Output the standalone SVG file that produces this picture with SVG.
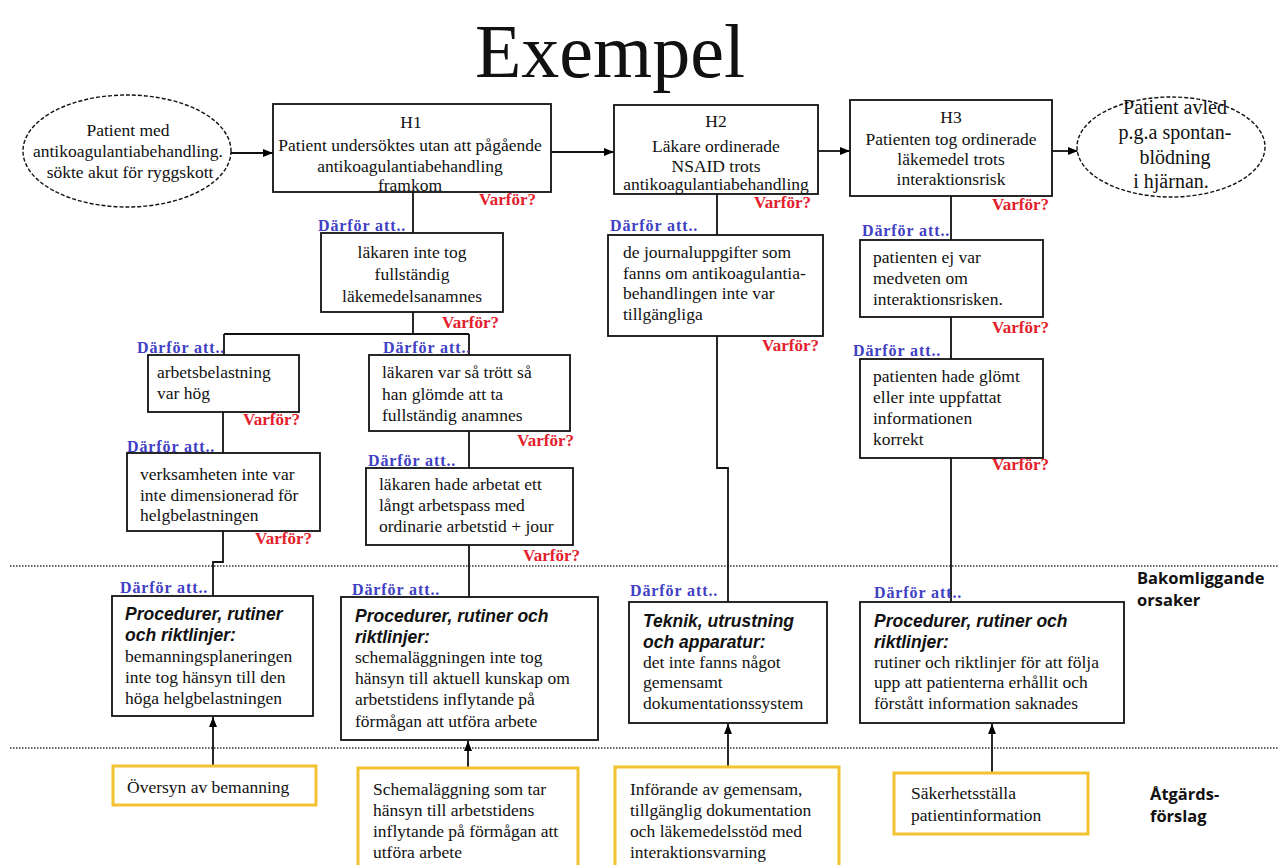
<svg xmlns="http://www.w3.org/2000/svg" width="1279" height="865" viewBox="0 0 1279 865">
  <defs>
    <marker id="arrow" markerUnits="userSpaceOnUse" markerWidth="10" markerHeight="8" refX="10" refY="4" orient="auto">
      <path d="M0,0 L10,4 L0,8 z" fill="#000"/>
    </marker>
  </defs>
  <style>
    .box { fill: #fff; stroke: #111; stroke-width: 1.8; }
    .act { fill: #fff; stroke: #F2C230; stroke-width: 3; }
    .oval { fill: #fff; stroke: #111; stroke-width: 1.4; stroke-dasharray: 4 2; }
    .t { font-family: "Liberation Serif", "Times New Roman", serif; font-size: 17.5px; fill: #111; }
    .c { text-anchor: middle; }
    .big { font-size: 20px; }
    .hd { font-family: "Liberation Sans", Arial, sans-serif; font-size: 17.5px; font-style: italic; font-weight: bold; fill: #111; }
    .why { font-family: "Liberation Serif", "Times New Roman", serif; font-size: 17px; font-weight: bold; fill: #E3202B; }
    .bec { font-family: "Liberation Serif", "Times New Roman", serif; font-size: 16px; font-weight: bold; fill: #4040C4; letter-spacing: 0.9px; }
    .side { font-family: "Open Sans", "Liberation Sans", sans-serif; font-size: 16.5px; font-weight: bold; fill: #111; }
    .ln { fill: none; stroke: #111; stroke-width: 1.8; }
    .dot { stroke: #333; stroke-width: 1.5; stroke-dasharray: 1.5 1.5; }
  </style>
  <rect width="1279" height="865" fill="#fff"/>

  <text x="610" y="77" class="t c" style="font-size:76px">Exempel</text>

  <!-- section dividers -->
  <g id="dividers">
    <line x1="10" y1="566" x2="1279" y2="566" class="dot"/>
    <line x1="10" y1="748" x2="1279" y2="748" class="dot"/>
  </g>

  <!-- connectors -->
  <g id="connectors">
    <line x1="230" y1="153" x2="273" y2="153" class="ln" marker-end="url(#arrow)"/>
    <line x1="551" y1="152" x2="614" y2="152" class="ln" marker-end="url(#arrow)"/>
    <line x1="818" y1="151" x2="850" y2="151" class="ln" marker-end="url(#arrow)"/>
    <line x1="1052" y1="151" x2="1078" y2="151" class="ln" marker-end="url(#arrow)"/>

    <line x1="413" y1="192" x2="413" y2="233" class="ln"/>
    <path d="M413,312 V334 M224,334 H469 M224,334 V355 M469,334 V355" class="ln"/>
    <line x1="223" y1="412" x2="223" y2="453" class="ln"/>
    <path d="M223,531 V562 H213 V596" class="ln"/>
    <line x1="469" y1="431" x2="469" y2="468" class="ln"/>
    <line x1="469" y1="545" x2="469" y2="597" class="ln"/>

    <line x1="717" y1="194" x2="717" y2="235" class="ln"/>
    <path d="M717,336 V468 H728 V602" class="ln"/>

    <line x1="951" y1="196" x2="951" y2="240" class="ln"/>
    <line x1="951" y1="317" x2="951" y2="359" class="ln"/>
    <line x1="951" y1="458" x2="951" y2="602" class="ln"/>

    <line x1="213" y1="766" x2="213" y2="717" class="ln" marker-end="url(#arrow)"/>
    <line x1="468" y1="768" x2="468" y2="741" class="ln" marker-end="url(#arrow)"/>
    <line x1="728" y1="767" x2="728" y2="724" class="ln" marker-end="url(#arrow)"/>
    <line x1="992" y1="773" x2="992" y2="724" class="ln" marker-end="url(#arrow)"/>
  </g>

  <!-- top row -->
  <g id="start">
    <ellipse cx="127" cy="151" rx="104" ry="56" class="oval"/>
    <text class="t c" x="128" y="136">Patient med</text>
    <text class="t c" x="128" y="157">antikoagulantiabehandling.</text>
    <text class="t c" x="130" y="178">sökte akut för ryggskott</text>
  </g>

  <g id="h1">
    <rect x="273" y="104" width="278" height="88" class="box"/>
    <text class="t c" x="411" y="128">H1</text>
    <text class="t c" x="410" y="151">Patient undersöktes utan att pågående</text>
    <text class="t c" x="410" y="172">antikoagulantiabehandling</text>
    <text class="t c" x="410" y="191">framkom</text>
    <text class="why" x="479" y="205">Varför?</text>
  </g>

  <g id="h2">
    <rect x="614" y="105" width="204" height="89" class="box"/>
    <text class="t c" x="716" y="127">H2</text>
    <text class="t c" x="716" y="152">Läkare ordinerade</text>
    <text class="t c" x="716" y="172">NSAID trots</text>
    <text class="t c" x="716" y="190">antikoagulantiabehandling</text>
    <text class="why" x="754" y="208">Varför?</text>
  </g>

  <g id="h3">
    <rect x="850" y="100" width="202" height="96" class="box"/>
    <text class="t c" x="951" y="123">H3</text>
    <text class="t c" x="951" y="145">Patienten tog ordinerade</text>
    <text class="t c" x="951" y="165">läkemedel trots</text>
    <text class="t c" x="951" y="185">interaktionsrisk</text>
    <text class="why" x="992" y="210">Varför?</text>
  </g>

  <g id="outcome">
    <ellipse cx="1171" cy="147" rx="94" ry="50" class="oval"/>
    <text class="t c big" x="1175" y="114">Patient avled</text>
    <text class="t c big" x="1175" y="139">p.g.a spontan-</text>
    <text class="t c big" x="1175" y="164">blödning</text>
    <text class="t c big" x="1171" y="188">i hjärnan.</text>
  </g>

  <!-- H1 branch -->
  <g id="h1-why1">
    <text class="bec" x="318" y="231">Därför att..</text>
    <rect x="321" y="233" width="182" height="79" class="box"/>
    <text class="t c" x="412" y="258">läkaren inte tog</text>
    <text class="t c" x="412" y="280">fullständig</text>
    <text class="t c" x="412" y="302">läkemedelsanamnes</text>
    <text class="why" x="442" y="328">Varför?</text>
  </g>

  <g id="h1-why2a">
    <text class="bec" x="137" y="353">Därför att..</text>
    <rect x="148" y="355" width="151" height="57" class="box"/>
    <text class="t" x="157" y="378">arbetsbelastning</text>
    <text class="t" x="157" y="399">var hög</text>
    <text class="why" x="243" y="425">Varför?</text>
  </g>

  <g id="h1-why2b">
    <text class="bec" x="383" y="353">Därför att..</text>
    <rect x="369" y="355" width="201" height="76" class="box"/>
    <text class="t" x="382" y="378">läkaren var så trött så</text>
    <text class="t" x="382" y="400">han glömde att ta</text>
    <text class="t" x="382" y="421">fullständig anamnes</text>
    <text class="why" x="517" y="446">Varför?</text>
  </g>

  <g id="h1-why3a">
    <text class="bec" x="127" y="452">Därför att..</text>
    <rect x="127" y="453" width="193" height="78" class="box"/>
    <text class="t" x="140" y="480">verksamheten inte var</text>
    <text class="t" x="140" y="501">inte dimensionerad för</text>
    <text class="t" x="140" y="521">helgbelastningen</text>
    <text class="why" x="255" y="544">Varför?</text>
  </g>

  <g id="h1-why3b">
    <text class="bec" x="368" y="466">Därför att..</text>
    <rect x="366" y="468" width="207" height="77" class="box"/>
    <text class="t" x="379" y="490">läkaren hade arbetat ett</text>
    <text class="t" x="379" y="511">långt arbetspass med</text>
    <text class="t" x="379" y="532">ordinarie arbetstid + jour</text>
    <text class="why" x="523" y="561">Varför?</text>
  </g>

  <!-- H2 branch -->
  <g id="h2-why1">
    <text class="bec" x="610" y="231">Därför att..</text>
    <rect x="608" y="235" width="215" height="101" class="box"/>
    <text class="t" x="623" y="258">de journaluppgifter som</text>
    <text class="t" x="623" y="279">fanns om antikoagulantia-</text>
    <text class="t" x="623" y="299">behandlingen inte var</text>
    <text class="t" x="623" y="320">tillgängliga</text>
    <text class="why" x="762" y="351">Varför?</text>
  </g>

  <!-- H3 branch -->
  <g id="h3-why1">
    <text class="bec" x="862" y="236">Därför att..</text>
    <rect x="860" y="240" width="183" height="77" class="box"/>
    <text class="t" x="873" y="263">patienten ej var</text>
    <text class="t" x="873" y="284">medveten om</text>
    <text class="t" x="873" y="305">interaktionsrisken.</text>
    <text class="why" x="992" y="333">Varför?</text>
  </g>

  <g id="h3-why2">
    <text class="bec" x="853" y="356">Därför att..</text>
    <rect x="860" y="359" width="183" height="99" class="box"/>
    <text class="t" x="873" y="382">patienten hade glömt</text>
    <text class="t" x="873" y="403">eller inte uppfattat</text>
    <text class="t" x="873" y="424">informationen</text>
    <text class="t" x="873" y="445">korrekt</text>
    <text class="why" x="992" y="470">Varför?</text>
  </g>

  <!-- underlying causes -->
  <g id="cause-staffing">
    <text class="bec" x="120" y="593">Därför att..</text>
    <rect x="112" y="596" width="201" height="120" class="box"/>
    <text class="hd" x="125" y="620">Procedurer, rutiner</text>
    <text class="hd" x="125" y="641">och riktlinjer:</text>
    <text class="t" x="125" y="662">bemanningsplaneringen</text>
    <text class="t" x="125" y="683">inte tog hänsyn till den</text>
    <text class="t" x="125" y="704">höga helgbelastningen</text>
  </g>

  <g id="cause-scheduling">
    <text class="bec" x="352" y="595">Därför att..</text>
    <rect x="341" y="597" width="257" height="143" class="box"/>
    <text class="hd" x="355" y="622">Procedurer, rutiner och</text>
    <text class="hd" x="355" y="643">riktlinjer:</text>
    <text class="t" x="355" y="663">schemaläggningen inte tog</text>
    <text class="t" x="355" y="684">hänsyn till aktuell kunskap om</text>
    <text class="t" x="355" y="705">arbetstidens inflytande på</text>
    <text class="t" x="355" y="727">förmågan att utföra arbete</text>
  </g>

  <g id="cause-technology">
    <text class="bec" x="630" y="596">Därför att..</text>
    <rect x="629" y="602" width="198" height="121" class="box"/>
    <text class="hd" x="643" y="627">Teknik, utrustning</text>
    <text class="hd" x="643" y="648">och apparatur:</text>
    <text class="t" x="643" y="668">det inte fanns något</text>
    <text class="t" x="643" y="688">gemensamt</text>
    <text class="t" x="643" y="709">dokumentationssystem</text>
  </g>

  <g id="cause-followup">
    <text class="bec" x="874" y="598">Därför att..</text>
    <rect x="860" y="602" width="264" height="121" class="box"/>
    <text class="hd" x="874" y="627">Procedurer, rutiner och</text>
    <text class="hd" x="874" y="648">riktlinjer:</text>
    <text class="t" x="874" y="668">rutiner och riktlinjer för att följa</text>
    <text class="t" x="874" y="688">upp att patienterna erhållit och</text>
    <text class="t" x="874" y="709">förstått information saknades</text>
  </g>

  <g id="label-causes">
    <text class="side" x="1137" y="584">Bakomliggande</text>
    <text class="side" x="1137" y="606">orsaker</text>
  </g>

  <!-- proposed actions -->
  <g id="action-staffing">
    <rect x="113" y="766" width="203" height="39" class="act"/>
    <text class="t" x="127" y="793">Översyn av bemanning</text>
  </g>

  <g id="action-scheduling">
    <rect x="358" y="768" width="220" height="110" class="act"/>
    <text class="t" x="373" y="795">Schemaläggning som tar</text>
    <text class="t" x="373" y="816">hänsyn till arbetstidens</text>
    <text class="t" x="373" y="837">inflytande på förmågan att</text>
    <text class="t" x="373" y="858">utföra arbete</text>
  </g>

  <g id="action-documentation">
    <rect x="615" y="767" width="224" height="110" class="act"/>
    <text class="t" x="630" y="795">Införande av gemensam,</text>
    <text class="t" x="630" y="816">tillgänglig dokumentation</text>
    <text class="t" x="630" y="837">och läkemedelsstöd med</text>
    <text class="t" x="630" y="858">interaktionsvarning</text>
  </g>

  <g id="action-information">
    <rect x="894" y="773" width="194" height="61" class="act"/>
    <text class="t" x="911" y="799">Säkerhetsställa</text>
    <text class="t" x="911" y="821">patientinformation</text>
  </g>

  <g id="label-actions">
    <text class="side" x="1150" y="800">Åtgärds-</text>
    <text class="side" x="1150" y="822">förslag</text>
  </g>
</svg>
